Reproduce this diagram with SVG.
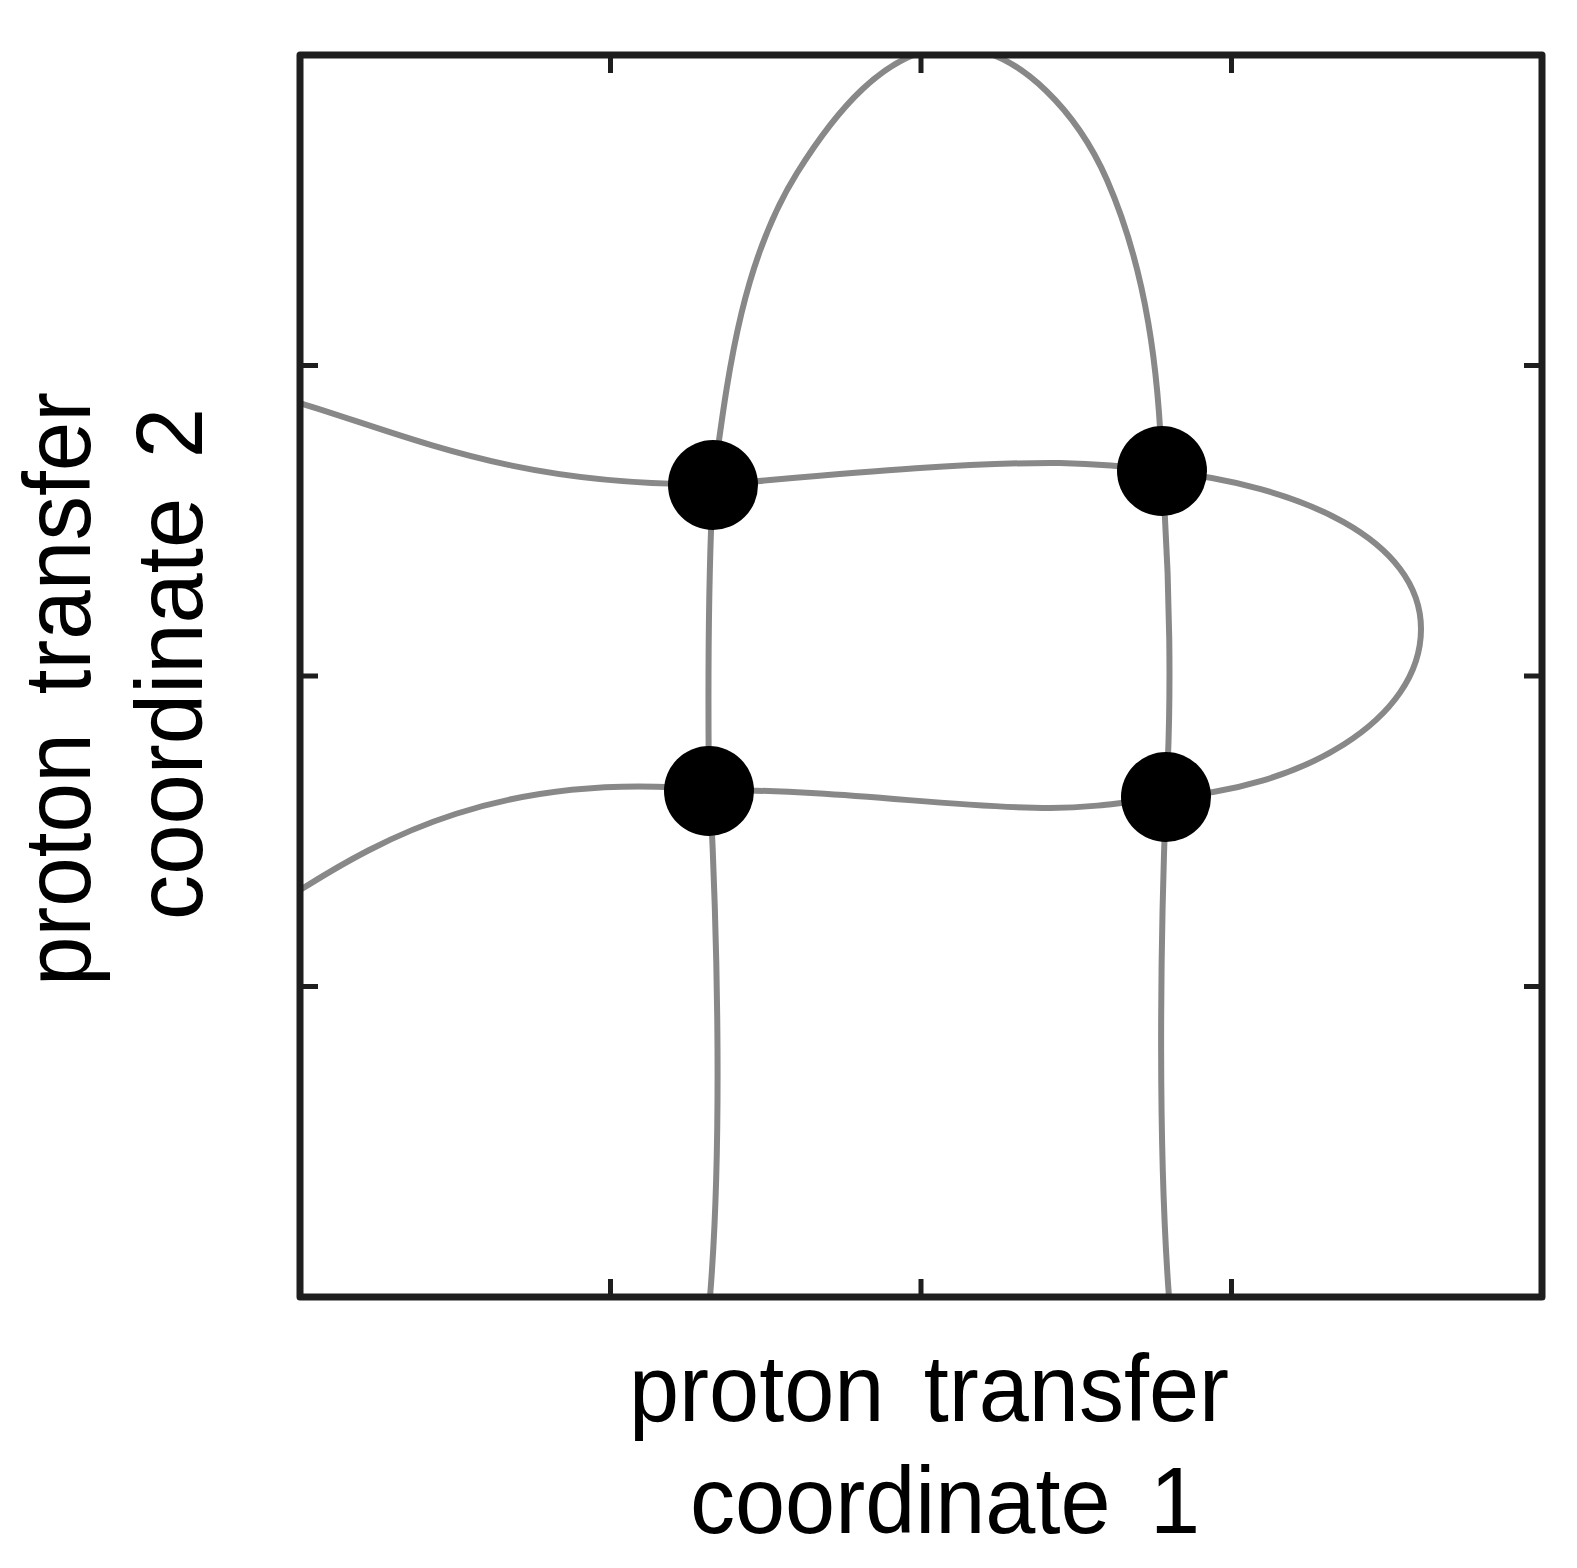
<svg xmlns="http://www.w3.org/2000/svg" width="1577" height="1568" viewBox="0 0 1577 1568">
  <style>
    .curve { fill: none; stroke: #888888; stroke-width: 6; stroke-linecap: round; stroke-linejoin: round; }
    .frame { fill: none; stroke: #1e1e1e; stroke-width: 7; stroke-linejoin: round; }
    .tick { stroke: #1e1e1e; stroke-width: 5; }
    .node { fill: #000000; }
    .label { font-family: "Liberation Sans", Arial, sans-serif; font-size: 94px; fill: #000000; word-spacing: 15px; }
  </style>
  <defs>
    <clipPath id="plotClip">
      <rect x="300" y="55" width="1242" height="1242"/>
    </clipPath>
  </defs>
  <rect x="0" y="0" width="1577" height="1568" fill="#ffffff"/>

  <g id="connectors" clip-path="url(#plotClip)">
    <path class="curve" d="M300,403 C420,440 520,486 713,484"/>
    <path class="curve" d="M713,485 C800,478 950,462 1060,463 C1110,464 1140,468 1162,471"/>
    <path class="curve" d="M1162,471 C1300,485 1421,540 1421,629 C1421,720 1300,790 1166,797"/>
    <path class="curve" d="M1166,797 C1120,803 1090,808 1050,808 C950,808 850,790 710,790"/>
    <path class="curve" d="M710,790 C500,770 380,840 300,890"/>
    <path class="curve" d="M710,1297 C722,1150 718,950 710,790"/>
    <path class="curve" d="M709,791 C708,700 708,580 713,485"/>
    <path class="curve" d="M713,484 C727.6,378 740.3,264 797,173 C832,117 885,47 953,47 C1022,47 1080.2,118.6 1107,180 C1146.6,270.7 1159,372 1162,471"/>
    <path class="curve" d="M1162,471 C1170,580 1172,700 1166,797"/>
    <path class="curve" d="M1166,797 C1160,950 1158,1150 1169,1297"/>
  </g>

  <g id="axes">
    <rect class="frame" x="300" y="55" width="1242" height="1242"/>
    <path class="tick" d="M610.5,55 V73 M921,55 V73 M1231.5,55 V73 M610.5,1297 V1279 M921,1297 V1279 M1231.5,1297 V1279 M300,365.5 H318 M300,676 H318 M300,986.5 H318 M1542,365.5 H1524 M1542,676 H1524 M1542,986.5 H1524"/>
  </g>

  <g id="node-tl"><circle class="node" cx="713" cy="485" r="45"/></g>
  <g id="node-tr"><circle class="node" cx="1162" cy="471" r="45"/></g>
  <g id="node-bl"><circle class="node" cx="709" cy="791" r="45"/></g>
  <g id="node-br"><circle class="node" cx="1166" cy="797" r="45"/></g>

  <g id="x-label">
    <text class="label" x="629" y="1421" textLength="600" lengthAdjust="spacingAndGlyphs">proton transfer</text>
    <text class="label" x="690" y="1533" textLength="510" lengthAdjust="spacingAndGlyphs">coordinate 1</text>
  </g>
  <g id="y-label">
    <text class="label" transform="translate(90,986) rotate(-90)" x="0" y="0" textLength="594" lengthAdjust="spacingAndGlyphs">proton transfer</text>
    <text class="label" transform="translate(202,920) rotate(-90)" x="0" y="0" textLength="512" lengthAdjust="spacingAndGlyphs">coordinate 2</text>
  </g>
</svg>
